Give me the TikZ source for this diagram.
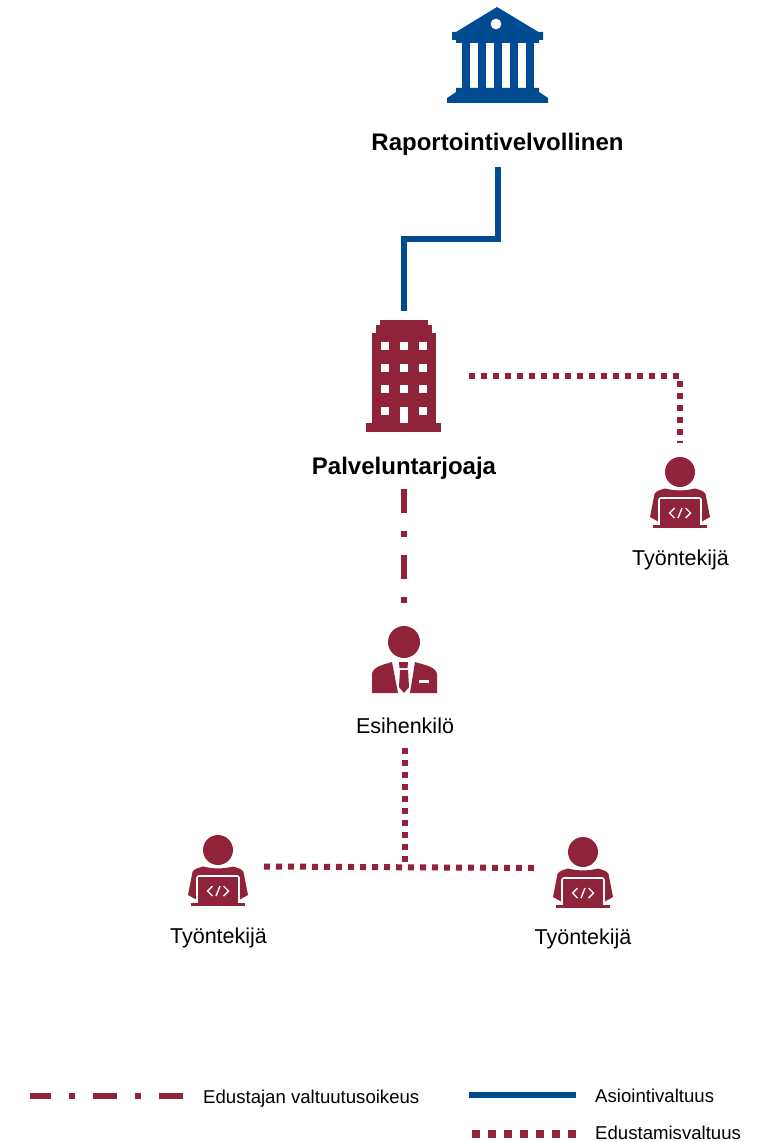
\documentclass[tikz,border=0pt]{standalone}
\usepackage{fontspec}
\setmainfont{Liberation Sans}
\definecolor{wine}{HTML}{8E2339}
\definecolor{navy}{HTML}{004C93}
\tikzset{
 x=1pt,y=-1pt,
 solidline/.style={draw=navy,line width=6pt},
 dotline/.style={draw=wine,line width=6pt,dash pattern=on 6pt off 6pt},
 dashdotline/.style={draw=wine,line width=6pt,dash pattern=on 24pt off 18pt on 6pt off 18pt},
 strong/.style={font=\bfseries\fontsize{24}{26}\selectfont,inner sep=0pt},
 plain/.style={font=\fontsize{21.5}{24}\selectfont,inner sep=0pt},
 legendtext/.style={font=\fontsize{18.6}{21}\selectfont,inner sep=0pt,anchor=west},
 pics/worker/.style={code={
  \fill[wine] (0,-28) circle (15);
  \fill[wine] (-15,-11.5) .. controls (-5,-9) and (5,-9) .. (15,-11.5)
     .. controls (20,-10) and (24,-9) .. (25.5,-6) -- (30,17) -- (21,22) -- (21,26) -- (-21,26) -- (-21,22) -- (-30,17) -- (-25.5,-6)
     .. controls (-24,-9) and (-20,-10) .. (-15,-11.5) -- cycle;
  \draw[white,line width=1.6pt,rounded corners=2pt] (-21,25) -- (-21,-2) -- (21,-2) -- (21,25);
  \fill[wine] (-27,25) rectangle (27,28);
  \draw[white,line width=1.4pt] (-5.5,8) -- (-10.5,13) -- (-5.5,18) (5.5,8) -- (10.5,13) -- (5.5,18) (2,8) -- (-2,18);
 }},
 pics/manager/.style={code={
  \fill[wine] (0,-17) circle (16);
  \fill[wine] (-12,3) .. controls (-22,6) and (-32,8) .. (-32,16) -- (-32,34) -- (-6,34) -- cycle;
  \fill[wine] (11,3) .. controls (21,6) and (33,8) .. (33,16) -- (33,34) -- (6,34) -- cycle;
  \fill[wine] (-5,3) -- (4,3) -- (3.5,9) -- (-4.5,9) -- cycle;
  \fill[wine] (-4,11) -- (4,11) -- (5,28) -- (0,34) -- (-5,28) -- cycle;
  \fill[white] (15,21) rectangle (25,24);
 }},
 pics/bank/.style={code={
  \fill[navy,even odd rule] (0,-32) -- (41.5,-7) -- (46,-7) -- (46,1) -- (42,1) -- (42,4) -- (-41,4) -- (-41,1) -- (-45,1) -- (-45,-7) -- (-41,-7) -- cycle
     (-1,-15) circle (5.5);
  \foreach \cx in {-31.5,-15,1,17,33} \fill[navy] (\cx-4,4) rectangle (\cx+4,50);
  \fill[navy] (-41,49) -- (42,49) -- (42,53) -- (51,59) -- (51,64) -- (-50,64) -- (-50,59) -- (-41,53) -- cycle;
 }},
 pics/office/.style={code={
  \fill[wine] (-24,-51) rectangle (24,-46);
  \fill[wine] (-28,-46) rectangle (28,-38);
  \fill[wine] (-32,-38) rectangle (32,52);
  \fill[wine] (-38,52) rectangle (37,61);
  \foreach \cy in {-25,-3,18,40} \foreach \cx in {-19,0,19} \fill[white] (\cx-4,\cy-4.3) rectangle (\cx+4,\cy+4.3);
  \fill[white] (-4,36) rectangle (4,52);
 }}
}
\begin{document}
\begin{tikzpicture}
\useasboundingbox (0,0) rectangle (762,1142);
\pic at (497,39) {bank};
\pic at (404,371) {office};
\pic at (680,500) {worker};
\pic at (404,659) {manager};
\pic at (218,878) {worker};
\pic at (583,880) {worker};
\node[strong] (rep) at (497.5,144.5) {Raportointivelvollinen};
\node[strong] (prov) at (404,468.5) {Palveluntarjoaja};
\node[plain] (w1) at (680.5,560) {Työntekijä};
\node[plain] (boss) at (405,726) {Esihenkilö};
\node[plain] (w2) at (218.5,938) {Työntekijä};
\node[plain] (w3) at (583,939) {Työntekijä};
\coordinate (repOut) at (497.7,167);
\coordinate (provIn) at (404,311);
\coordinate (provRight) at (469,376);
\coordinate (w1In) at (680,443);
\coordinate (provOut) at (404,489);
\coordinate (bossIn) at (404,604);
\coordinate (bossOut) at (405,748);
\coordinate (junction) at (405,862);
\coordinate (w2In) at (264,866.5);
\coordinate (w3In) at (534,868);
\draw[solidline] (repOut) -- (497.7,239) -- (404,239) -- (provIn);
\draw[dotline] (provRight) -- (680,376) -- (w1In);
\draw[dashdotline] (provOut) -- (bossIn);
\draw[dotline] (bossOut) -- (junction);
\draw[dotline] (w2In) -- (w3In);
\coordinate (l1a) at (30,1096);
\coordinate (l1b) at (184,1096);
\coordinate (l2a) at (469,1095);
\coordinate (l2b) at (576,1095);
\coordinate (l3a) at (472,1133.5);
\coordinate (l3b) at (576,1133.5);
\draw[wine,line width=6pt,dash pattern=on 21pt off 18pt on 6pt off 18pt on 24pt off 18pt on 6pt off 18pt on 24pt off 100pt] (l1a) -- (l1b);
\draw[solidline] (l2a) -- (l2b);
\draw[draw=wine,line width=8pt,dash pattern=on 8pt off 8pt] (l3a) -- (l3b);
\node[legendtext] (t1) at (203,1098.5) {Edustajan valtuutusoikeus};
\node[legendtext] (t2) at (595,1096) {Asiointivaltuus};
\node[legendtext] (t3) at (595,1133) {Edustamisvaltuus};
\end{tikzpicture}
\end{document}
